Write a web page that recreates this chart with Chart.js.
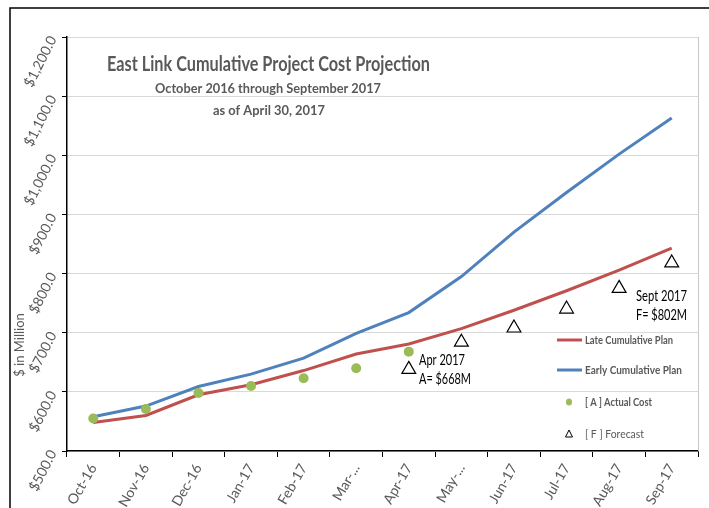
<!DOCTYPE html>
<html>
<head>
<meta charset="utf-8">
<script src="https://cdn.jsdelivr.net/npm/chart.js@4.4.0/dist/chart.umd.min.js"></script>
<style>
  html, body { margin: 0; padding: 0; background: #fff; }
</style>
</head>
<body>
<canvas id="chart1" width="709" height="508"></canvas>
<script>
// categories and values
const months = ['Oct-16', 'Nov-16', 'Dec-16', 'Jan-17', 'Feb-17', 'Mar-...', 'Apr-17', 'May-...', 'Jun-17', 'Jul-17', 'Aug-17', 'Sep-17'];
const latePlan = [548, 560, 595, 612, 636, 664, 681, 707, 738, 771, 806, 843];
const earlyPlan = [558, 576, 609, 630, 657, 699, 734, 795, 870, 937, 1002, 1063];
const actualCost = [555, 571, 598, 610, 623, 640, 668, null, null, null, null, null];
const forecast = [null, null, null, null, null, null, 638, 684, 708, 740, 775, 818];
const yTicks = [500, 600, 700, 800, 900, 1000, 1100, 1200];

const FONT = '"Liberation Sans Narrow", "Lato", sans-serif';
const GREY = '#595959';

// draws text squeezed to a given width (the original font is narrower)
function fitText(c, text, x, y, w, align) {
  const m = c.measureText(text).width;
  const s = Math.min(1, w / m);
  c.save();
  c.translate(x, y);
  c.scale(s, 1);
  c.textAlign = align || 'left';
  c.fillText(text, 0, 0);
  c.restore();
}

// frame, titles, notes and legend drawn on the canvas
const extras = {
  id: 'extras',
  beforeDraw(chart) {
    const c = chart.ctx;
    c.save();
    c.strokeStyle = '#000';
    c.lineWidth = 1.5;
    c.beginPath();
    c.moveTo(10, 508);
    c.lineTo(10, 8);
    c.lineTo(709, 8);
    c.stroke();
    c.restore();
  },
  afterDraw(chart) {
    const c = chart.ctx;
    const a = chart.chartArea;
    c.save();
    // right border of plot area
    c.strokeStyle = '#c8c8c8';
    c.lineWidth = 1;
    c.beginPath();
    c.moveTo(a.right + 0.5, a.top);
    c.lineTo(a.right + 0.5, a.bottom);
    c.stroke();

    // titles
    c.fillStyle = GREY;
    c.textBaseline = 'middle';
    c.font = 'bold 20px ' + FONT;
    fitText(c, 'East Link Cumulative Project Cost Projection', 268.5, 65, 323, 'center');
    c.font = 'bold 14px ' + FONT;
    fitText(c, 'October 2016 through September 2017', 268, 88, 226, 'center');
    fitText(c, 'as of April 30, 2017', 269, 110, 112, 'center');

    // axis title
    c.save();
    c.translate(20, 345);
    c.rotate(-Math.PI / 2);
    c.font = '13px ' + FONT;
    fitText(c, '$ in Million', 0, 0, 64, 'center');
    c.restore();

    // notes
    c.fillStyle = '#000';
    c.font = '15px ' + FONT;
    fitText(c, 'Apr 2017', 419, 360, 46);
    fitText(c, 'A= $668M', 419, 379, 52);
    fitText(c, 'Sept 2017', 636, 296, 51);
    fitText(c, 'F= $802M', 636, 315, 51);

    // legend
    const lx = 557, tx = 585;
    c.lineWidth = 3;
    c.strokeStyle = '#C0504D';
    c.beginPath(); c.moveTo(lx, 340); c.lineTo(582, 340); c.stroke();
    c.strokeStyle = '#4F81BD';
    c.beginPath(); c.moveTo(lx, 370); c.lineTo(582, 370); c.stroke();
    c.fillStyle = '#9BBB59';
    c.beginPath(); c.ellipse(569, 402, 3, 3.5, 0, 0, Math.PI * 2); c.fill();
    c.strokeStyle = '#000';
    c.lineWidth = 1;
    c.beginPath(); c.moveTo(569, 430); c.lineTo(572.5, 437); c.lineTo(565.5, 437); c.closePath(); c.stroke();

    c.fillStyle = GREY;
    c.font = 'bold 12px ' + FONT;
    fitText(c, 'Late Cumulative Plan', tx, 340, 88);
    fitText(c, 'Early Cumulative Plan', tx, 370, 97);
    fitText(c, '[ A ] Actual Cost', tx, 402, 67);
    c.font = '12px ' + FONT;
    fitText(c, '[ F ] Forecast', tx, 434, 59);
    c.restore();
  }
};

const ctx = document.getElementById('chart1').getContext('2d');
const chart = new Chart(ctx, {
  type: 'line',
  data: {
    labels: months,
    datasets: [
      {
        label: 'Late Cumulative Plan',
        data: latePlan,
        borderColor: '#C0504D',
        borderWidth: 3,
        pointRadius: 0,
        tension: 0,
        order: 3
      },
      {
        label: 'Early Cumulative Plan',
        data: earlyPlan,
        borderColor: '#4F81BD',
        borderWidth: 3,
        pointRadius: 0,
        tension: 0,
        order: 4
      },
      {
        label: '[ A ] Actual Cost',
        data: actualCost,
        showLine: false,
        pointStyle: 'circle',
        pointRadius: 5,
        backgroundColor: '#9BBB59',
        borderColor: '#9BBB59',
        borderWidth: 0,
        order: 1
      },
      {
        label: '[ F ] Forecast',
        data: forecast,
        showLine: false,
        pointStyle: 'triangle',
        pointRadius: 8,
        backgroundColor: '#fff',
        borderColor: '#000',
        borderWidth: 1.2,
        order: 2
      }
    ]
  },
  options: {
    responsive: false,
    animation: false,
    layout: { padding: { left: 0, top: 37, right: 11, bottom: 0 } },
    plugins: {
      legend: { display: false },
      tooltip: { enabled: false }
    },
    scales: {
      x: {
        offset: true,
        grid: { display: true, drawOnChartArea: false, offset: true, tickColor: '#000', tickLength: 6 },
        border: { color: '#000', width: 1.5 },
        ticks: {
          color: GREY,
          font: { family: FONT, size: 14 },
          minRotation: 60,
          maxRotation: 60,
          padding: 4,
          autoSkip: false
        },
        afterFit(scale) { scale.height = 57; }
      },
      y: {
        min: 500,
        max: 1200,
        afterBuildTicks(scale) { scale.ticks = yTicks.map(v => ({ value: v })); },
        grid: { color: '#d9d9d9', tickColor: '#000', tickLength: 5 },
        border: { color: '#000', width: 1.5 },
        ticks: {
          color: GREY,
          font: { family: FONT, size: 14 },
          minRotation: 63,
          maxRotation: 63,
          padding: 9,
          callback: v => '$' + v.toLocaleString('en-US', { minimumFractionDigits: 1, maximumFractionDigits: 1 })
        },
        afterFit(scale) { scale.width = 67; }
      }
    }
  },
  plugins: [extras]
});
</script>
</body>
</html>
